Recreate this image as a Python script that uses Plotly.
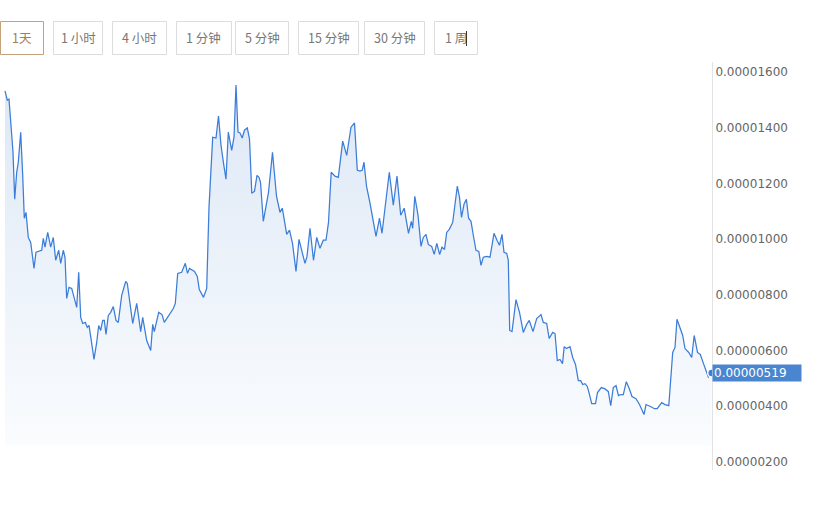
import plotly.graph_objects as go

# time positions (arbitrary units along the x axis)
t = [5, 7.3, 9, 13, 14.7, 16.7, 18.3, 20.7, 22.7, 24.3, 26, 28.3, 30.7, 34, 36, 41.7, 43.3, 45, 47.7, 50.7,
     53.3, 55.7, 58.7, 60.7, 63.3, 65, 66.7, 69, 71.7, 74.7, 76.7, 78.7, 80.7, 82.7, 85.3, 87.3, 89, 91, 94, 96.7,
     98.7, 100.7, 102.7, 104.3, 106, 108.3, 110.7, 113.3, 116, 118.3, 121.7, 125.7, 127.3, 132.7, 136.7, 140.7,
     142.7, 146.7, 150.7, 152.7, 154.3, 158.7, 162, 164.3, 173.3, 175.3, 177.7, 181.7, 185.3, 187.5, 189.5,
     194.5, 197.3, 199.3, 203.5, 206.7, 209, 212.7, 216, 218.5, 221, 223.5, 226, 228.3, 231.7, 234, 236, 238,
     240, 242.2, 244.5, 247.3, 249.5, 251.8, 254.5, 257, 259, 260.5, 263.3, 268.5, 272.5, 276.5, 280, 282.3,
     284.3, 286.7, 289.5, 292.5, 296, 299, 302.7, 305, 307, 310, 313.5, 316.7, 320, 323.3, 326, 328.5, 331.2,
     335, 338.3, 342.7, 346.7, 351, 354.5, 357.3, 360, 362.2, 364, 366.5, 370, 376, 379.5, 382, 389.3, 393.3,
     397, 400.7, 404.2, 408.5, 411.3, 412.7, 414.8, 418, 421, 423.3, 426, 428.3, 431.7, 434.2, 436.8, 439.6,
     442, 444.5, 446.7, 449.3, 452.7, 454.5, 457.3, 459.5, 461.5, 464, 466.4, 468.6, 471, 473.3, 476, 478.8,
     481, 483.3, 486.7, 490, 494, 497, 499.5, 502, 504, 506.7, 508.3, 509.7, 512, 516, 519.5, 523.3, 526.7,
     529.3, 533, 536.7, 541, 543.3, 546.7, 549.2, 552.7, 555, 557.3, 560, 562.5, 564.2, 566.5, 570, 572.7,
     575.5, 578.3, 580.7, 582.7, 585, 587.3, 589.5, 591.7, 595.5, 597.5, 601.3, 604.5, 608.3, 610.7, 613.3,
     616, 618.5, 621, 623.3, 626.3, 629.3, 632, 636, 639.5, 644, 646, 650.5, 654.5, 657.2, 661.7, 665, 668.8,
     672.7, 675, 677, 679.7, 682.7, 685, 688.8, 691.7, 694.2, 697.5, 700.3, 703.5, 706, 708.3, 711.7]

# price values in units of 1e-6
price_e6 = [15.32, 14.99, 15.03, 13.12, 11.43, 12.40, 12.76, 13.84, 12.29, 10.75, 10.96, 10.06, 9.88, 8.95,
            9.53, 9.60, 10.03, 9.71, 10.24, 9.71, 10.06, 9.24, 9.60, 9.13, 9.60, 9.35, 7.87, 8.27, 8.23, 7.87,
            7.55, 8.81, 7.19, 6.97, 7.01, 6.83, 6.90, 6.43, 5.68, 6.29, 6.90, 6.72, 7.08, 7.08, 6.58, 7.26, 7.37,
            7.58, 7.08, 7.01, 7.98, 8.48, 8.41, 6.97, 7.69, 6.68, 7.19, 6.36, 6.00, 6.94, 6.68, 7.37, 7.29, 7.01,
            7.51, 7.69, 8.77, 8.81, 9.13, 8.77, 8.95, 8.84, 8.66, 8.19, 7.91, 8.23, 11.14, 13.66, 13.63, 14.42,
            13.37, 12.73, 12.15, 13.84, 13.19, 13.66, 15.53, 13.84, 13.81, 13.63, 13.91, 13.99, 13.59, 11.65,
            11.72, 12.29, 12.22, 12.04, 10.64, 11.68, 13.12, 11.54, 10.96, 11.11, 10.60, 10.17, 10.32, 9.85,
            8.84, 9.99, 9.45, 9.13, 9.38, 10.39, 9.24, 10.06, 9.67, 9.96, 9.96, 10.60, 12.40, 12.26, 12.22,
            13.52, 13.01, 14.02, 14.17, 12.47, 12.44, 12.47, 12.76, 11.90, 11.29, 10.10, 10.75, 10.21, 12.40,
            11.22, 12.26, 10.86, 11.11, 10.21, 10.64, 10.39, 11.54, 10.86, 9.74, 10.06, 10.17, 9.81, 9.74, 9.45,
            9.85, 9.45, 9.71, 9.63, 10.24, 10.35, 10.60, 11.11, 11.90, 11.50, 10.78, 11.25, 11.43, 10.75, 10.64,
            10.14, 9.60, 9.56, 9.06, 9.35, 9.38, 9.35, 10.21, 9.96, 9.78, 10.17, 9.53, 9.49, 9.24, 6.72, 6.68,
            7.83, 7.37, 6.65, 6.94, 7.08, 6.68, 7.15, 7.29, 7.01, 6.97, 6.43, 6.65, 6.61, 5.64, 5.68, 5.53, 6.14,
            6.07, 6.14, 5.75, 5.50, 4.92, 4.92, 4.78, 4.81, 4.71, 4.42, 4.09, 4.09, 4.49, 4.67, 4.63, 4.53, 4.02,
            4.67, 4.74, 4.38, 4.42, 4.42, 4.88, 4.63, 4.35, 4.27, 4.06, 3.70, 4.06, 3.99, 3.91, 3.91, 4.13, 4.06,
            4.02, 5.93, 6.11, 7.12, 6.83, 6.54, 6.07, 5.93, 5.75, 6.54, 5.93, 5.86, 5.53, 5.24, 5.05, 5.19]

price = [v * 1e-6 for v in price_e6]

tick_vals = [2e-6, 4e-6, 6e-6, 8e-6, 10e-6, 12e-6, 14e-6, 16e-6]
intervals = ["1天", "1 小时", "4 小时", "1 分钟", "5 分钟", "15 分钟", "30 分钟", "1 周"]
selected = "1天"
fill_base = 2.6e-6
last_label = "0.00000519"

LINE = "#3b7dd8"
W, H = 814, 506
ML, MR, MT, MB = 0, 102, 62, 36
PW, PH = W - ML - MR, H - MT - MB

fig = go.Figure()
fig.add_trace(go.Scatter(x=[t[0], t[-1]], y=[fill_base, fill_base], mode="lines",
                         line=dict(width=0, color="rgba(0,0,0,0)"), hoverinfo="skip", showlegend=False))
fig.add_trace(go.Scatter(
    x=t, y=price, mode="lines", line=dict(color=LINE, width=1.25), fill="tonexty",
    fillgradient=dict(type="vertical",
                      colorscale=[[0, "rgba(250,252,254,1)"], [1, "rgba(221,232,246,1)"]],
                      start=fill_base, stop=max(price)),
    showlegend=False))
fig.add_trace(go.Scatter(x=[t[-1]], y=[price[-1]], mode="markers",
                         marker=dict(size=8, color=LINE, line=dict(color="white", width=1.5)),
                         cliponaxis=False, showlegend=False))

# interval buttons (pixel geometry converted to paper coords)
btn_px = [(0, 44), (53, 103), (112, 167), (176, 232), (235, 289), (298, 359), (364, 425), (434, 478)]
def px_x(p):
    return (p - ML) / PW
def px_y(p):
    return (H - MB - p) / PH

shapes = []
annotations = []
for label, (x0, x1) in zip(intervals, btn_px):
    sel = label == selected
    shapes.append(dict(type="rect", xref="paper", yref="paper",
                       x0=px_x(x0 + 0.5), x1=px_x(x1 - 0.5), y0=px_y(54.5), y1=px_y(21.5),
                       line=dict(color="#c3a27c" if sel else "#dddddd", width=1),
                       fillcolor="white", layer="below"))
    annotations.append(dict(xref="paper", yref="paper", x=px_x((x0 + x1) / 2), y=px_y(38),
                            text=label, showarrow=False, xanchor="center", yanchor="middle",
                            font=dict(family="Noto Sans CJK SC", size=12.5,
                                      color="#a87d52" if sel else "#777777")))
# text cursor after last button label
shapes.append(dict(type="line", xref="paper", yref="paper", x0=px_x(466.5), x1=px_x(466.5),
                   y0=px_y(31), y1=px_y(46), line=dict(color="#333333", width=1)))

annotations.append(dict(xref="paper", yref="y", x=1, y=price[-1], text=last_label, showarrow=False,
                        xanchor="left", yanchor="middle", align="left", bgcolor="#4a86cf",
                        width=86, height=14, borderpad=1, xshift=0,
                        font=dict(family="DejaVu Sans", size=12, color="white")))

fig.update_layout(
    width=W, height=H, margin=dict(l=ML, r=MR, t=MT, b=MB),
    paper_bgcolor="white", plot_bgcolor="white",
    shapes=shapes, annotations=annotations,
    xaxis=dict(range=[0, PW], visible=False, fixedrange=True),
    yaxis=dict(side="right", range=[1.71e-6, 16.36e-6], tickvals=tick_vals, tickformat=".8f",
               showgrid=False, zeroline=False, showline=True, linecolor="#e3e3e3", linewidth=1,
               ticks="", ticklabelstandoff=0,
               tickfont=dict(family="DejaVu Sans", size=12, color="#666666")),
)

fig.write_html("out.html", config={"displayModeBar": False},
               post_script="document.body.style.margin='0';document.body.style.overflow='hidden';")
